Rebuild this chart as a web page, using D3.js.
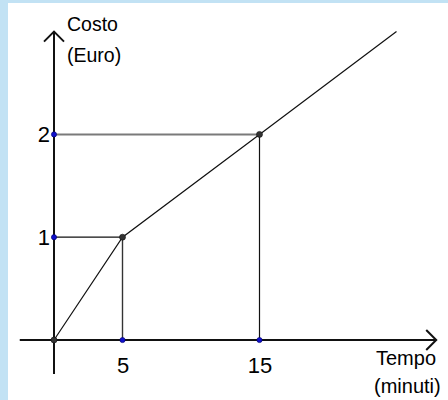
<!DOCTYPE html>
<html><head><meta charset="utf-8">
<script src="https://cdn.jsdelivr.net/npm/d3@7"></script>
<style>
html,body{margin:0;padding:0;background:#fff;}
svg{display:block;}
text{font-family:"Liberation Sans",Arial,sans-serif;fill:#000;}
</style></head><body>
<script>
// Data
const tempo = [0, 5, 15, 25];          // minuti
const costo = [0, 1, 2, 3];            // Euro
const xTicks = [5, 15];
const yTicks = [1, 2];
const xTickLabels = ["5", "15"];
const yTickLabels = ["1", "2"];
const xAxisExtent = [-2.5, 27.9];
const yAxisExtent = [-0.33, 3.0];
const xTitle = ["Tempo", "(minuti)"];
const yTitle = ["Costo", "(Euro)"];

const W = 448, H = 400;
const svg = d3.select("body").append("svg").attr("width", W).attr("height", H);

// background frame
svg.append("rect").attr("x",0).attr("y",0).attr("width",W).attr("height",H).attr("fill","#c2e2f4");
svg.append("rect").attr("x",8).attr("y",3).attr("width",W-8).attr("height",H-3).attr("fill","#fff");

const x = d3.scaleLinear().domain([0, 25]).range([54, 54 + 25*13.7]);
const y = d3.scaleLinear().domain([0, 3]).range([340, 340 - 3*102.8]);

// guide lines
svg.append("line").attr("x1", x(0)).attr("x2", x(15)).attr("y1", y(2)).attr("y2", y(2))
  .attr("stroke", "#7a7a7a").attr("stroke-width", 2);
svg.append("line").attr("x1", x(0)).attr("x2", x(5)).attr("y1", y(1)).attr("y2", y(1))
  .attr("stroke", "#111").attr("stroke-width", 1.2);
svg.append("line").attr("x1", x(5)).attr("x2", x(5)).attr("y1", y(1)).attr("y2", y(0))
  .attr("stroke", "#333").attr("stroke-width", 1.4);
svg.append("line").attr("x1", x(15)).attr("x2", x(15)).attr("y1", y(2)).attr("y2", y(0))
  .attr("stroke", "#111").attr("stroke-width", 1.2);

// axes
const axisG = svg.append("g").attr("stroke", "#111").attr("stroke-width", 2).attr("fill", "none");
axisG.append("line").attr("x1", x(xAxisExtent[0])).attr("x2", x(xAxisExtent[1])).attr("y1", y(0)).attr("y2", y(0));
axisG.append("line").attr("x1", x(0)).attr("x2", x(0)).attr("y1", y(yAxisExtent[0])).attr("y2", y(yAxisExtent[1]));
// arrow heads
const xt = x(xAxisExtent[1]), yt = y(yAxisExtent[1]);
axisG.append("path").attr("d", `M${xt-10},${y(0)-10}L${xt},${y(0)}L${xt-10},${y(0)+10}`);
axisG.append("path").attr("d", `M${x(0)-10},${yt+10}L${x(0)},${yt}L${x(0)+10},${yt+10}`);

// function line
const line = d3.line().x((d,i)=>x(tempo[i])).y((d,i)=>y(costo[i]));
svg.append("path").datum(tempo).attr("d", line).attr("fill","none").attr("stroke","#111").attr("stroke-width",1.2);

// points
const blue = [[0,1],[0,2],[5,0],[15,0]];
const grey = [[0,0],[5,1],[15,2]];
svg.selectAll("circle.b").data(blue).enter().append("circle")
  .attr("cx", d=>x(d[0])).attr("cy", d=>y(d[1])).attr("r", 2.6).attr("fill", "#1010cc").attr("stroke","#000066").attr("stroke-width",0.6);
svg.selectAll("circle.g").data(grey).enter().append("circle")
  .attr("cx", d=>x(d[0])).attr("cy", d=>y(d[1])).attr("r", 3).attr("fill", "#333").attr("stroke","#111").attr("stroke-width",0.6);

// tick labels
svg.selectAll("text.xt").data(xTicks).enter().append("text")
  .attr("x", d=>x(d)+0.5).attr("y", y(0)+33).attr("text-anchor","middle").attr("font-size", 22)
  .text((d,i)=>xTickLabels[i]);
svg.selectAll("text.yt").data(yTicks).enter().append("text")
  .attr("x", x(0)-4).attr("y", d=>y(d)+8).attr("text-anchor","end").attr("font-size", 22)
  .text((d,i)=>yTickLabels[i]);

// titles
svg.append("text").attr("x", 67).attr("y", 31).attr("font-size", 19.5).text(yTitle[0]);
svg.append("text").attr("x", 67).attr("y", 62).attr("font-size", 19.5).text(yTitle[1]);
svg.append("text").attr("x", 376).attr("y", 365).attr("font-size", 20).text(xTitle[0]);
svg.append("text").attr("x", 374).attr("y", 393).attr("font-size", 20).text(xTitle[1]);
</script>
</body></html>
